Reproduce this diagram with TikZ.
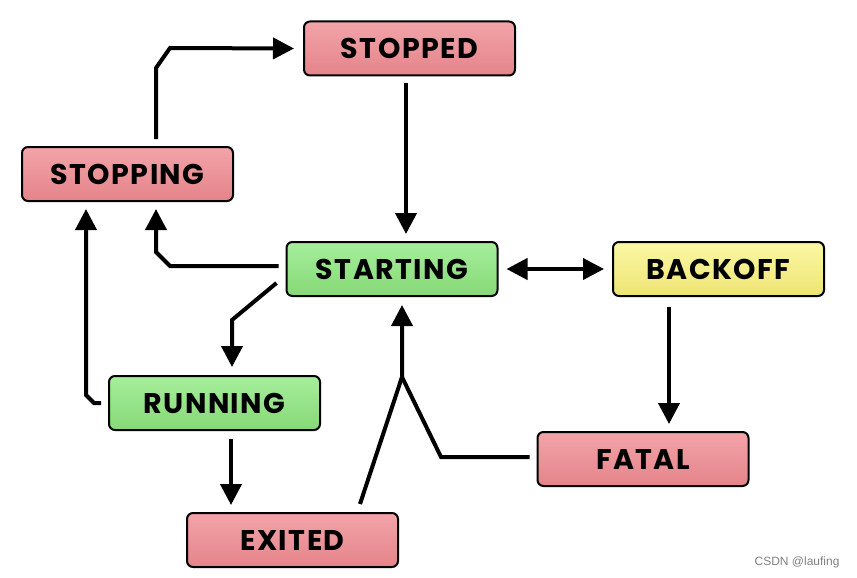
\documentclass[tikz,border=0pt]{standalone}
\usepackage{fontspec}
\setmainfont{Poppins}
\newfontfamily\statefont[LetterSpace=5.0]{Poppins}
\newfontfamily\wmfont{Liberation Sans}
\usetikzlibrary{arrows.meta,calc}
\definecolor{redtop}{HTML}{F2A4A9}
\definecolor{redbot}{HTML}{E4848A}
\definecolor{greentop}{HTML}{A6EE9C}
\definecolor{greenbot}{HTML}{86D976}
\definecolor{yellowtop}{HTML}{FAF8A4}
\definecolor{yellowbot}{HTML}{EEE474}
\tikzset{
  state/.style={draw=black, line width=2pt, rounded corners=6pt,
    minimum width=211pt, minimum height=54pt, inner sep=0pt,
    font=\statefont\fontsize{28.5}{30}\selectfont\bfseries},
  redst/.style={state, top color=redtop, bottom color=redbot},
  greenst/.style={state, top color=greentop, bottom color=greenbot},
  yellowst/.style={state, top color=yellowtop, bottom color=yellowbot},
  conn/.style={line width=4pt},
  arr/.style={conn, -{Triangle[length=21pt,width=21pt]}},
  darr/.style={conn, {Triangle[length=21pt,width=21pt]}-{Triangle[length=21pt,width=21pt]}},
}
\begin{document}
\begin{tikzpicture}[x=1pt,y=-1pt]
\useasboundingbox (0,0) rectangle (857,578);
\node[redst] (stopped) at (409.5,48.5) {STOPPED};
\node[redst] (stopping) at (127.5,174) {STOPPING};
\node[greenst] (starting) at (392,269) {STARTING};
\node[yellowst] (backoff) at (718.5,269) {BACKOFF};
\node[greenst] (running) at (214.5,403) {RUNNING};
\node[redst] (fatal) at (643,459) {FATAL};
\node[redst] (exited) at (292.5,540) {EXITED};
\draw[arr] ([xshift=28.5pt,yshift=7pt]stopping.north) -- (156,68) -- (170,48) -- ([xshift=-9pt]stopped.west);
\draw[arr] ([xshift=-3.5pt,yshift=-7pt]stopped.south) -- ([xshift=14pt,yshift=7pt]starting.north);
\draw[arr] ([xshift=-7pt,yshift=3pt]starting.west) -- (170,266) -- (156,252) -- ([xshift=28.5pt,yshift=-7pt]stopping.south);
\draw[arr] ([xshift=-9pt,yshift=-14pt]starting.west) -- (232,320) -- ([xshift=17.5pt,yshift=8pt]running.north);
\draw[arr] ([xshift=-7pt]running.west) -- (94,403) -- (86,395) -- ([xshift=-41.5pt,yshift=-7pt]stopping.south);
\draw[arr] ([xshift=16.5pt,yshift=-8pt]running.south) -- ([xshift=-61.5pt,yshift=7pt]exited.north);
\coordinate (merge) at (402,377);
\draw[arr] ([xshift=67.5pt,yshift=8pt]exited.north) -- (merge) -- ([xshift=10pt,yshift=-8pt]starting.south);
\draw[conn] ([xshift=-7pt,yshift=2pt]fatal.west) -- (441,457) -- (merge);
\draw[darr] ([xshift=8pt]starting.east) -- ([xshift=-8pt]backoff.west);
\draw[arr] ([xshift=-49.5pt,yshift=-10pt]backoff.south) -- ([xshift=26pt,yshift=7pt]fatal.north);
\node[text=black!50, font=\fontsize{12}{14}\selectfont\wmfont, anchor=east] (wm) at (843,562) {CSDN @laufing};
\end{tikzpicture}
\end{document}
